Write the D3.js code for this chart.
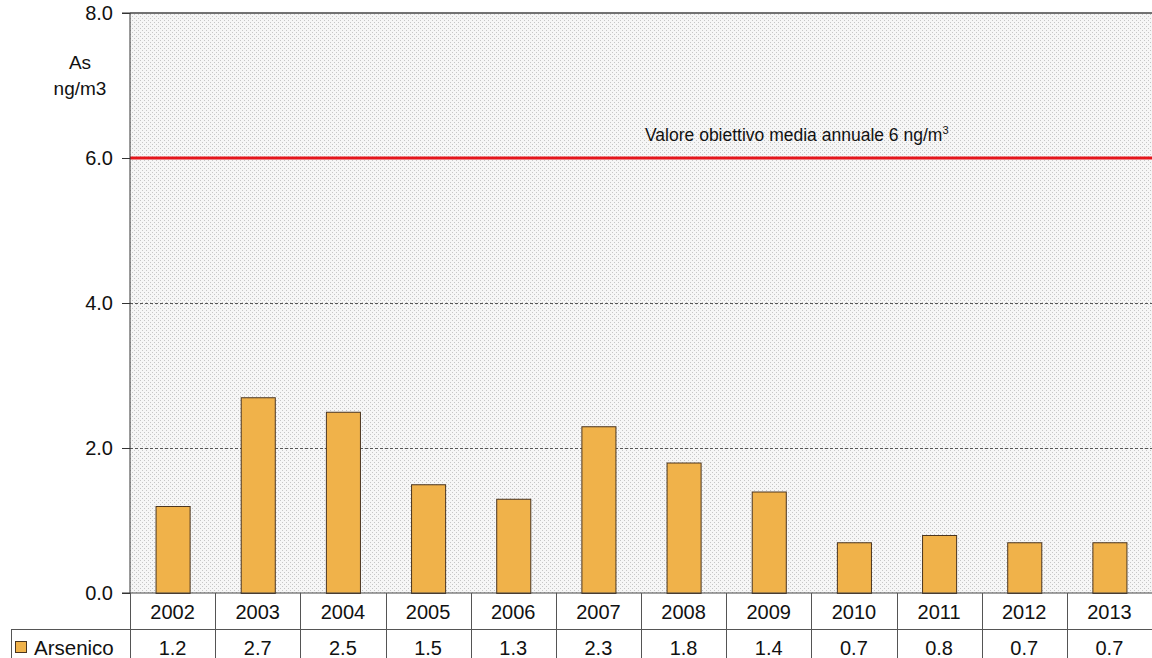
<!DOCTYPE html>
<html>
<head>
<meta charset="utf-8">
<script src="https://cdn.jsdelivr.net/npm/d3@7"></script>
<style>
  html, body { margin: 0; padding: 0; background: #fff; }
  svg { display: block; font-family: Arial, "Liberation Sans", sans-serif; }
</style>
</head>
<body>
<svg id="chart" width="1152" height="658"></svg>
<script>
// Annual mean arsenic concentration (ng/m3)
const years = ["2002", "2003", "2004", "2005", "2006", "2007", "2008", "2009", "2010", "2011", "2012", "2013"];
const arsenico = [1.2, 2.7, 2.5, 1.5, 1.3, 2.3, 1.8, 1.4, 0.7, 0.8, 0.7, 0.7];
const yTicks = [0, 2, 4, 6, 8];
const targetValue = 6;
const seriesName = "Arsenico";

const svg = d3.select("#chart");
const plotLeft = 130, plotRight = 1152, plotTop = 13, plotBottom = 593;
const rowLine = 629, tableBottom = 658;

const x = d3.scaleBand().domain(years).range([plotLeft, plotRight]).paddingInner(0).paddingOuter(0);
const y = d3.scaleLinear().domain([0, 8]).range([plotBottom, plotTop]);

// dotted plot-area fill
const defs = svg.append("defs");
const pat = defs.append("pattern").attr("id", "dots").attr("width", 4).attr("height", 4)
  .attr("patternUnits", "userSpaceOnUse");
pat.append("rect").attr("width", 4).attr("height", 4).attr("fill", "#f6f6f6");
pat.append("rect").attr("x", 0).attr("y", 0).attr("width", 1).attr("height", 1).attr("fill", "#c6c6c6");
pat.append("rect").attr("x", 2).attr("y", 2).attr("width", 1).attr("height", 1).attr("fill", "#c6c6c6");

svg.append("rect").attr("x", plotLeft).attr("y", plotTop).attr("width", plotRight - plotLeft).attr("height", plotBottom - plotTop)
  .attr("fill", "url(#dots)");

// dashed gridlines
svg.append("g").selectAll("line").data(yTicks.filter(d => d > 0 && d < 8)).join("line")
  .attr("x1", plotLeft).attr("x2", plotRight)
  .attr("y1", d => y(d) + 0.5).attr("y2", d => y(d) + 0.5)
  .attr("stroke", "#555").attr("stroke-width", 1).attr("stroke-dasharray", "3,2");

// top border
svg.append("line").attr("x1", plotLeft).attr("x2", plotRight).attr("y1", y(8)).attr("y2", y(8))
  .attr("stroke", "#444").attr("stroke-width", 1.5);

// bars
const barW = x.bandwidth() * 0.4;
svg.append("g").selectAll("rect").data(years.map((yr, i) => ({ yr, v: arsenico[i] }))).join("rect")
  .attr("x", d => x(d.yr) + (x.bandwidth() - barW) / 2 + 0.5)
  .attr("y", d => y(d.v) + 0.5)
  .attr("width", barW)
  .attr("height", d => y(0) - y(d.v))
  .attr("fill", "#f0b24a")
  .attr("stroke", "#4a3520").attr("stroke-width", 1);

// target line
svg.append("line").attr("x1", plotLeft).attr("x2", plotRight).attr("y1", y(targetValue)).attr("y2", y(targetValue))
  .attr("stroke", "#e5161c").attr("stroke-width", 3);

const tlabel = svg.append("text").attr("x", 645).attr("y", y(targetValue) - 17)
  .attr("font-size", 17.5).attr("fill", "#111");
tlabel.append("tspan").text("Valore obiettivo media annuale " + targetValue + " ng/m");
tlabel.append("tspan").attr("dy", -7).attr("font-size", 11).text("3");

// y axis
const yAxis = d3.axisLeft(y).tickValues(yTicks).tickFormat(d3.format(".1f")).tickSize(8).tickPadding(9);
const gy = svg.append("g").attr("transform", `translate(${plotLeft},0)`).call(yAxis);
gy.select(".domain").attr("stroke", "#333").attr("d", `M-8,${plotTop}H0V${plotBottom}H-8`);
gy.selectAll(".tick line").attr("stroke", "#333");
gy.selectAll(".tick text").attr("font-size", 20).attr("fill", "#111").attr("font-family", "Arial, 'Liberation Sans', sans-serif");

// unit label
svg.append("text").attr("x", 80).attr("y", 69).attr("text-anchor", "middle").attr("font-size", 19).attr("fill", "#111").text("As");
svg.append("text").attr("x", 80).attr("y", 95).attr("text-anchor", "middle").attr("font-size", 19).attr("fill", "#111").text("ng/m3");

// data table
const tbl = svg.append("g");
tbl.append("line").attr("x1", plotLeft).attr("x2", plotRight).attr("y1", plotBottom).attr("y2", plotBottom).attr("stroke", "#444");
tbl.append("line").attr("x1", 11).attr("x2", plotRight).attr("y1", rowLine + 0.5).attr("y2", rowLine + 0.5).attr("stroke", "#555");
tbl.append("line").attr("x1", 11.5).attr("x2", 11.5).attr("y1", rowLine).attr("y2", tableBottom).attr("stroke", "#555");
tbl.selectAll("line.div").data(years).join("line").attr("class", "div")
  .attr("x1", d => Math.round(x(d)) + 0.5).attr("x2", d => Math.round(x(d)) + 0.5)
  .attr("y1", plotBottom).attr("y2", tableBottom).attr("stroke", "#555");

tbl.selectAll("text.yr").data(years).join("text").attr("class", "yr")
  .attr("x", d => x(d) + x.bandwidth() / 2).attr("y", 619)
  .attr("text-anchor", "middle").attr("font-size", 20).attr("fill", "#111").text(d => d);
tbl.selectAll("text.val").data(arsenico).join("text").attr("class", "val")
  .attr("x", (d, i) => x(years[i]) + x.bandwidth() / 2).attr("y", 655)
  .attr("text-anchor", "middle").attr("font-size", 20).attr("fill", "#111").text(d => d3.format(".1f")(d));

// legend key
tbl.append("rect").attr("x", 15.5).attr("y", 641.5).attr("width", 11).attr("height", 11)
  .attr("fill", "#f0b24a").attr("stroke", "#4a3520");
tbl.append("text").attr("x", 34).attr("y", 655).attr("font-size", 20.5).attr("fill", "#111").text(seriesName);
</script>
</body>
</html>
